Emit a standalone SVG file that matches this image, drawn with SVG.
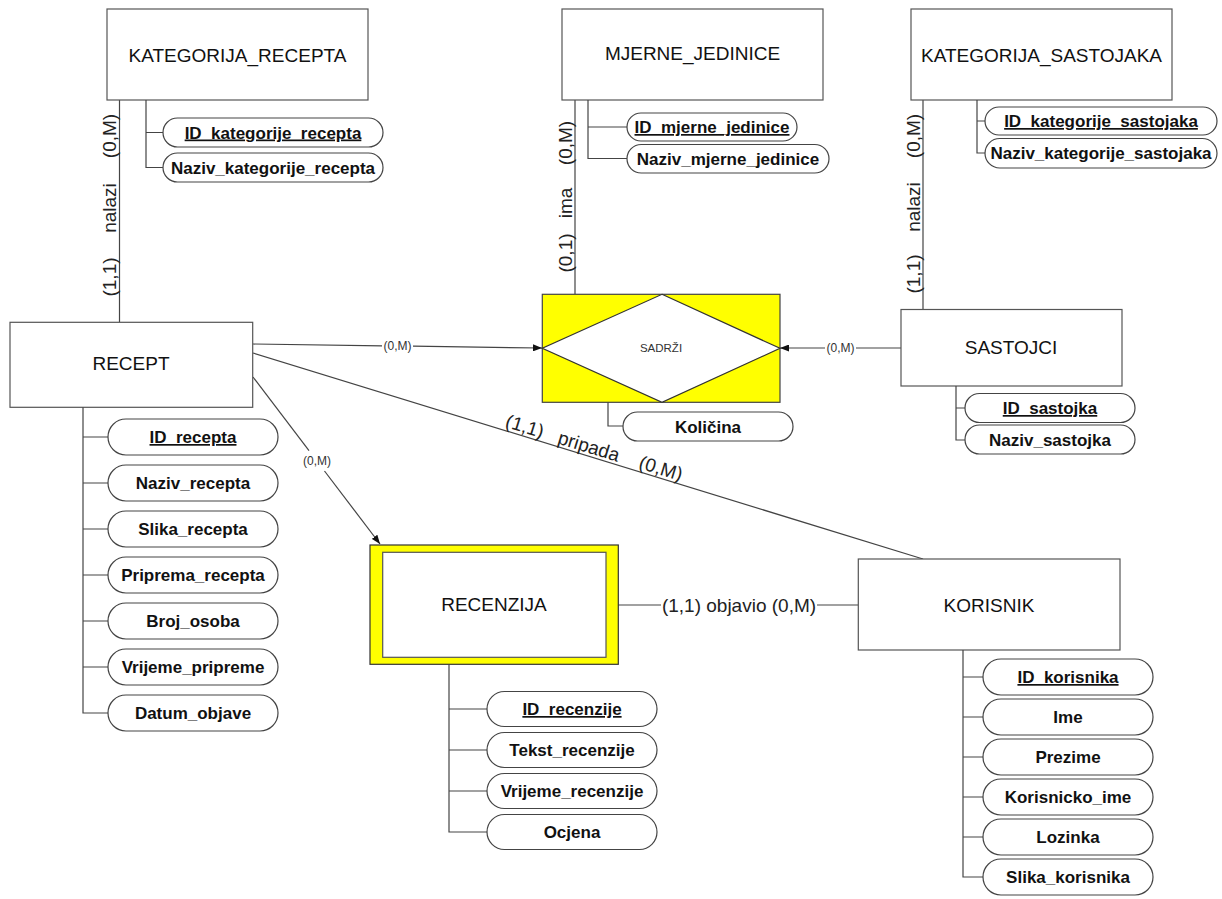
<svg xmlns="http://www.w3.org/2000/svg" width="1222" height="899" viewBox="0 0 1222 899">
<defs>
<style>
.ent{fill:#fff;stroke:#555;stroke-width:1.2}
.et{font-family:"Liberation Sans",Arial,sans-serif;font-size:19px;fill:#111;text-anchor:middle}
.pill{fill:#fff;stroke:#444;stroke-width:1.2}
.pt{font-family:"Liberation Sans",Arial,sans-serif;font-size:17px;font-weight:bold;fill:#111;text-anchor:middle}
.key{text-decoration:underline}
.ln{stroke:#444;stroke-width:1.2;fill:none}
.lbl{font-family:"Liberation Sans",Arial,sans-serif;font-size:19px;fill:#222;text-anchor:middle}
.sm{font-family:"Liberation Sans",Arial,sans-serif;font-size:12px;fill:#333;text-anchor:middle}
</style>
<marker id="arr" markerUnits="userSpaceOnUse" markerWidth="9" markerHeight="7" refX="9" refY="3.5" orient="auto">
<path d="M0,0 L9,3.5 L0,7 z" fill="#111"/>
</marker>
</defs>
<rect width="1222" height="899" fill="#fff"/>

<g id="connectors">
<line class="ln" x1="119.5" y1="100" x2="119.5" y2="322"/>
<line class="ln" x1="575" y1="100" x2="575" y2="294"/>
<line class="ln" x1="923" y1="100" x2="923" y2="309"/>
<line class="ln" x1="253" y1="344" x2="382" y2="345.8"/>
<line class="ln" x1="413" y1="346.2" x2="542" y2="348" marker-end="url(#arr)"/>
<line class="ln" x1="901" y1="348" x2="856" y2="348"/>
<line class="ln" x1="825" y1="348" x2="780" y2="348" marker-end="url(#arr)"/>
<line class="ln" x1="253" y1="377" x2="309" y2="450.6"/>
<line class="ln" x1="324.5" y1="471" x2="380" y2="544" marker-end="url(#arr)"/>
<line class="ln" x1="253" y1="353" x2="923" y2="559"/>
<line class="ln" x1="618" y1="605" x2="661" y2="605"/>
<line class="ln" x1="817" y1="605" x2="858" y2="605"/>
<text class="sm" x="397.5" y="350">(0,M)</text>
<text class="sm" x="840.5" y="352">(0,M)</text>
<text class="sm" x="317" y="465">(0,M)</text>
<text class="lbl" x="739" y="612">(1,1) objavio (0,M)</text>
<g class="lbl">
<text transform="translate(116,277) rotate(-90)">(1,1)</text>
<text transform="translate(116,208) rotate(-90)">nalazi</text>
<text transform="translate(116,136) rotate(-90)">(0,M)</text>
<text transform="translate(572,253) rotate(-90)">(0,1)</text>
<text transform="translate(572,203) rotate(-90)">ima</text>
<text transform="translate(572,143) rotate(-90)">(0,M)</text>
<text transform="translate(920,274) rotate(-90)">(1,1)</text>
<text transform="translate(920,207) rotate(-90)">nalazi</text>
<text transform="translate(920,136) rotate(-90)">(0,M)</text>
<text transform="translate(523,432.5) rotate(17.1)">(1,1)</text>
<text transform="translate(587,452.5) rotate(17.1)">pripada</text>
<text transform="translate(659,474.5) rotate(17.1)">(0,M)</text>
</g>
</g>

<g id="kategorija_recepta">
<rect class="ent" x="107" y="9" width="261" height="91"/>
<text class="et" x="237.5" y="61.5">KATEGORIJA_RECEPTA</text>
<path class="ln" d="M146,100 V167.5 H163 M146,132.5 H163"/>
<rect class="pill" x="163" y="118" width="220" height="29" rx="14.5"/>
<text class="pt key" x="273" y="138.5">ID_kategorije_recepta</text>
<rect class="pill" x="163" y="153" width="220" height="29" rx="14.5"/>
<text class="pt" x="273" y="173.5">Naziv_kategorije_recepta</text>
</g>

<g id="mjerne_jedinice">
<rect class="ent" x="562" y="9" width="261" height="91"/>
<text class="et" x="692.5" y="60">MJERNE_JEDINICE</text>
<path class="ln" d="M588,100 V158.5 H627 M588,127 H627"/>
<rect class="pill" x="627" y="113" width="170" height="28" rx="14"/>
<text class="pt key" x="712" y="133">ID_mjerne_jedinice</text>
<rect class="pill" x="627" y="144.5" width="202" height="28.5" rx="14.25"/>
<text class="pt" x="728" y="164.5">Naziv_mjerne_jedinice</text>
</g>

<g id="kategorija_sastojaka">
<rect class="ent" x="911" y="9" width="261" height="91"/>
<text class="et" x="1041.5" y="61.5">KATEGORIJA_SASTOJAKA</text>
<path class="ln" d="M977,100 V153 H985 M977,121 H985"/>
<rect class="pill" x="985" y="107" width="232" height="28" rx="14"/>
<text class="pt key" x="1101" y="127">ID_kategorije_sastojaka</text>
<rect class="pill" x="985" y="138.5" width="232" height="29.5" rx="14.75"/>
<text class="pt" x="1101" y="159">Naziv_kategorije_sastojaka</text>
</g>

<g id="sadrzi">
<rect x="542.3" y="294.3" width="237.7" height="108" fill="#ffff00" stroke="#444" stroke-width="1.2"/>
<polygon points="662,294.3 780,348.3 662,402.3 542.3,348.3" fill="#fff" stroke="#333" stroke-width="1.2"/>
<text x="661" y="352" font-family="'Liberation Sans',Arial,sans-serif" font-size="11.5" fill="#333" text-anchor="middle">SADRŽI</text>
<path class="ln" d="M608,402.3 V426 H623"/>
<rect class="pill" x="623" y="412" width="170" height="29" rx="14.5"/>
<text class="pt" x="708" y="432.5">Količina</text>
</g>

<g id="sastojci">
<rect class="ent" x="901" y="309.5" width="221" height="76.5"/>
<text class="et" x="1011" y="353.5">SASTOJCI</text>
<path class="ln" d="M956,386 V440 H965 M956,408 H965"/>
<rect class="pill" x="965" y="393.5" width="170" height="29" rx="14.5"/>
<text class="pt key" x="1050" y="414">ID_sastojka</text>
<rect class="pill" x="965" y="425" width="170" height="29" rx="14.5"/>
<text class="pt" x="1050" y="445.5">Naziv_sastojka</text>
</g>

<g id="recept">
<rect class="ent" x="10" y="322.3" width="242.7" height="85"/>
<text class="et" x="131" y="370">RECEPT</text>
<path class="ln" d="M83,407.3 V713 H108 M83,437 H108 M83,483 H108 M83,529 H108 M83,575 H108 M83,621 H108 M83,667 H108"/>
<rect class="pill" x="108" y="419" width="170" height="36" rx="18"/>
<text class="pt key" x="193" y="443">ID_recepta</text>
<rect class="pill" x="108" y="465" width="170" height="36" rx="18"/>
<text class="pt" x="193" y="489">Naziv_recepta</text>
<rect class="pill" x="108" y="511" width="170" height="36" rx="18"/>
<text class="pt" x="193" y="535">Slika_recepta</text>
<rect class="pill" x="108" y="557" width="170" height="36" rx="18"/>
<text class="pt" x="193" y="581">Priprema_recepta</text>
<rect class="pill" x="108" y="603" width="170" height="36" rx="18"/>
<text class="pt" x="193" y="627">Broj_osoba</text>
<rect class="pill" x="108" y="649" width="170" height="36" rx="18"/>
<text class="pt" x="193" y="673">Vrijeme_pripreme</text>
<rect class="pill" x="108" y="695" width="170" height="36" rx="18"/>
<text class="pt" x="193" y="719">Datum_objave</text>
</g>

<g id="recenzija">
<rect x="370" y="545" width="248.3" height="119.3" fill="#ffff00" stroke="#333" stroke-width="1.2"/>
<rect x="382.7" y="552.3" width="223.3" height="105" fill="#fff" stroke="#555" stroke-width="1.2"/>
<text class="et" x="494" y="611">RECENZIJA</text>
<path class="ln" d="M449,664.3 V832 H487 M449,709 H487 M449,750 H487 M449,791 H487"/>
<rect class="pill" x="487" y="691.5" width="170" height="35" rx="17.5"/>
<text class="pt key" x="572" y="715">ID_recenzije</text>
<rect class="pill" x="487" y="732.5" width="170" height="35" rx="17.5"/>
<text class="pt" x="572" y="756">Tekst_recenzije</text>
<rect class="pill" x="487" y="773.5" width="170" height="35" rx="17.5"/>
<text class="pt" x="572" y="797">Vrijeme_recenzije</text>
<rect class="pill" x="487" y="814.5" width="170" height="35" rx="17.5"/>
<text class="pt" x="572" y="838">Ocjena</text>
</g>

<g id="korisnik">
<rect class="ent" x="858.3" y="559" width="261.7" height="91"/>
<text class="et" x="989" y="612">KORISNIK</text>
<path class="ln" d="M963,650 V877 H983 M963,677 H983 M963,717 H983 M963,757 H983 M963,797 H983 M963,837 H983"/>
<rect class="pill" x="983" y="659" width="170" height="36" rx="18"/>
<text class="pt key" x="1068" y="683">ID_korisnika</text>
<rect class="pill" x="983" y="699" width="170" height="36" rx="18"/>
<text class="pt" x="1068" y="723">Ime</text>
<rect class="pill" x="983" y="739" width="170" height="36" rx="18"/>
<text class="pt" x="1068" y="763">Prezime</text>
<rect class="pill" x="983" y="779" width="170" height="36" rx="18"/>
<text class="pt" x="1068" y="803">Korisnicko_ime</text>
<rect class="pill" x="983" y="819" width="170" height="36" rx="18"/>
<text class="pt" x="1068" y="843">Lozinka</text>
<rect class="pill" x="983" y="859" width="170" height="36" rx="18"/>
<text class="pt" x="1068" y="883">Slika_korisnika</text>
</g>
</svg>
